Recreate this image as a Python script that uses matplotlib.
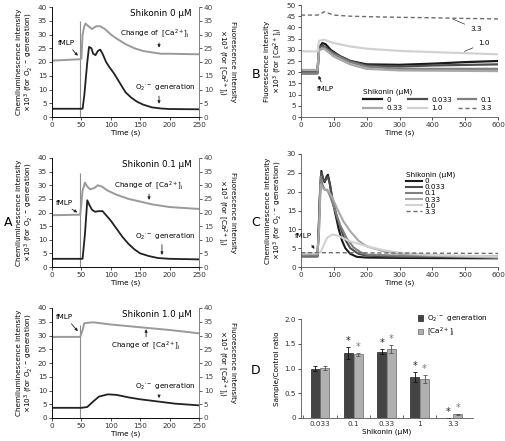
import matplotlib
matplotlib.use('Agg')
import matplotlib.pyplot as plt

plt.rcParams['font.family'] = 'DejaVu Sans'
plt.rcParams['mathtext.fontset'] = 'dejavusans'
plt.rcParams['font.size'] = 5.2
plt.rcParams['axes.linewidth'] = 0.6

# ---- Panel A data (time in s, values x10^3) ----
a0_ca_t = [0, 48, 50, 52, 55, 57, 62, 68, 75, 82, 90, 100, 110, 125, 140, 155, 170, 185, 200, 250]
a0_ca_v = [20.5, 21, 21.2, 30, 33, 34, 33, 32, 33, 33, 32, 30, 28.5, 26.5, 25, 24, 23.5, 23, 23, 22.8]
a0_o2_t = [0, 52, 55, 60, 63, 67, 70, 74, 78, 82, 86, 92, 98, 105, 115, 125, 135, 145, 155, 170, 185, 200, 250]
a0_o2_v = [3, 3, 8, 20, 25.5, 25, 23, 22.5, 24, 24.5, 23, 20, 18, 16, 12.5, 9, 7, 5.5, 4.5, 3.5, 3.1, 2.9, 2.8]

a1_ca_t = [0, 48, 52, 56, 60, 65, 72, 78, 85, 95, 110, 130, 150, 170, 200, 250]
a1_ca_v = [19, 19.2, 28, 31, 29.5, 28.5, 29, 30, 29.5, 28, 26.5, 25, 24, 23, 22, 21.3]
a1_o2_t = [0, 52, 56, 60, 63, 68, 73, 80, 86, 92, 100, 110, 120, 130, 140, 150, 165, 180, 200, 250]
a1_o2_v = [3, 3, 12, 24.5, 23, 21, 20.3, 20.5, 20.5, 19, 17, 14, 11, 8.5, 6.5, 5, 4, 3.3, 3, 2.8]

a2_ca_t = [0, 48, 52, 55, 70, 100, 150, 200, 250]
a2_ca_v = [29.5, 29.5, 32, 34.5, 34.8, 34, 33, 32, 30.8]
a2_o2_t = [0, 50, 60, 70, 80, 95, 110, 130, 150, 180, 210, 250]
a2_o2_v = [3.7, 3.7, 4, 6, 7.8, 8.6, 8.4, 7.5, 6.8, 6, 5.2, 4.6]

a_titles = ['Shikonin 0 \u03bcM', 'Shikonin 0.1 \u03bcM', 'Shikonin 1.0 \u03bcM']
fmlp_time = 48
fmlp_top = [35, 34.5, 34]

# ---- Panel B data: [Ca2+]i ----
conc_labels = ['0', '0.033', '0.1', '0.33', '1.0', '3.3']
b_t = {
    '0': [0, 50, 55, 65, 75, 90, 120, 150, 200, 300, 400, 500, 600],
    '0.033': [0, 50, 55, 65, 100, 150, 200, 300, 400, 600],
    '0.1': [0, 50, 55, 70, 100, 150, 200, 300, 600],
    '0.33': [0, 50, 55, 70, 100, 150, 200, 300, 600],
    '1.0': [0, 50, 55, 70, 100, 150, 200, 300, 400, 500, 600],
    '3.3': [0, 50, 60, 70, 80, 100, 150, 200, 300, 400, 500, 600],
}
b_v = {
    '0': [19.5, 19.5, 31, 33, 32.5, 30, 27, 25, 23.5, 23.3, 23.8, 24.5, 25],
    '0.033': [20, 20, 31, 32, 28.5, 25, 23, 22.5, 23, 23.5],
    '0.1': [19.5, 19.5, 30, 31, 28, 24.5, 22.5, 21.5, 21.5],
    '0.33': [21, 21, 30, 30.5, 27, 23.5, 21.5, 20.8, 20.5],
    '1.0': [29.3, 29.3, 34, 34.5, 33, 31.5, 30.5, 29.5, 29, 28.5, 28],
    '3.3': [45.5, 45.5, 46, 47, 46.5, 45.5, 45, 44.8, 44.5, 44.3, 44, 43.8],
}

# ---- Panel C data: O2- generation ----
c_t = {
    '0': [0, 50, 53, 58, 62, 67, 72, 78, 82, 88, 95, 105, 115, 125, 135, 150, 170, 200, 300, 600],
    '0.033': [0, 50, 53, 58, 62, 67, 72, 78, 82, 88, 95, 110, 130, 150, 175, 200, 300, 600],
    '0.1': [0, 50, 55, 60, 65, 72, 80, 88, 100, 120, 140, 160, 180, 200, 300, 600],
    '0.33': [0, 50, 55, 60, 65, 75, 85, 95, 110, 130, 150, 175, 200, 250, 300, 400, 600],
    '1.0': [0, 50, 60, 70, 80, 95, 110, 130, 150, 200, 250, 300, 400, 600],
    '3.3': [0, 100, 300, 600],
}
c_v = {
    '0': [2.8, 2.8, 8, 20, 25.5, 23.5, 22.5, 24, 24.5, 22, 18, 14, 10, 7, 5, 3.5, 2.7, 2.5, 2.4, 2.3],
    '0.033': [3, 3, 8, 20, 25, 23.5, 22.8, 23.5, 24, 22, 18.5, 13, 8, 5, 3.5, 3, 2.7, 2.6],
    '0.1': [3, 3, 10, 24, 22, 20.5, 20.5, 19, 16, 11, 7.5, 5.2, 4, 3.3, 3, 2.8],
    '0.33': [3.5, 3.5, 10, 22, 21, 20.5, 20, 18.5, 15.5, 12, 9.5, 7, 5.5, 4.2, 3.5, 3, 2.5],
    '1.0': [3.7, 3.7, 4, 6, 7.8, 8.6, 8.4, 7.6, 6.8, 5.5, 4.5, 3.8, 3.2, 2.8],
    '3.3': [3.8, 3.8, 3.7, 3.6],
}
series_colors = {'0': '#1a1a1a', '0.033': '#4d4d4d', '0.1': '#808080',
                 '0.33': '#a8a8a8', '1.0': '#d2d2d2', '3.3': '#6e6e6e'}

# ---- Panel D data ----
d_cats = ['0.033', '0.1', '0.33', '1', '3.3']
d_o2 = [1.0, 1.32, 1.34, 0.82, 0.0]
d_o2_err = [0.06, 0.12, 0.05, 0.10, 0.0]
d_ca = [1.01, 1.29, 1.40, 0.78, 0.08]
d_ca_err = [0.05, 0.03, 0.08, 0.08, 0.01]
d_sig = [False, True, True, True, True]

W, H = 505, 441
fig = plt.figure(figsize=(W / 100, H / 100), dpi=100)


def px_axes(x0, y0, x1, y1):
    return fig.add_axes([x0 / W, 1 - y1 / H, (x1 - x0) / W, (y1 - y0) / H])


o2_lbl = r'O$_2$$^{\cdot-}$'
ca_lbl = r'[Ca$^{2+}$]$_\mathrm{i}$'
spine_c = '#555555'
arrow_kw = dict(arrowstyle='-|>', color='#222', lw=0.6, mutation_scale=4)

# ---------------- Panel A ----------------
a_rows = [(7, 117), (158, 267), (308, 418)]
a_data = [(a0_ca_t, a0_ca_v, a0_o2_t, a0_o2_v),
          (a1_ca_t, a1_ca_v, a1_o2_t, a1_o2_v),
          (a2_ca_t, a2_ca_v, a2_o2_t, a2_o2_v)]
# annotation placements (data coords)
ca_txt = [(174, 30.2, 182, 28, 24.2), (165, 29.8, 165, 27.8, 23.6), (160, 26.5, 160, 28.5, 33.3)]
o2_txt = [(192, 10.5, 182, 8.6, 3.8), (192, 11.1, 187, 9.2, 3.4), (192, 11.3, 182, 9.2, 6.2)]
fmlp_txt = [(24, 27, 47, 21.5), (22, 23.5, 47, 19.5), (22, 36.8, 47, 30.8)]

for i, (y0, y1) in enumerate(a_rows):
    ax = px_axes(52, y0, 199, y1)
    ca_t, ca_v, o2_t, o2_v = a_data[i]
    ax.vlines(fmlp_time, 0, fmlp_top[i], color='#8c8c8c', lw=0.8)
    ax.plot(ca_t, ca_v, color='#9a9a9a', lw=1.4)
    ax.plot(o2_t, o2_v, color='#222222', lw=1.3)
    ax.set_xlim(0, 250)
    ax.set_ylim(0, 40)
    ax.set_xticks(range(0, 251, 50))
    ax.set_yticks(range(0, 41, 5))
    ax.spines['top'].set_visible(False)
    for s in ['left', 'bottom', 'right']:
        ax.spines[s].set_color(spine_c)
    ax.tick_params(length=2, width=0.6, pad=1.5, colors='#333333')
    ax.set_xlabel('Time (s)', labelpad=1)
    ax.set_ylabel('Chemiluminescence intensity\n\u00d710$^3$ (for ' + o2_lbl + ' generation)',
                  labelpad=2, linespacing=1.1)
    ax2 = ax.twinx()
    ax2.set_ylim(0, 40)
    ax2.set_yticks(range(0, 41, 5))
    ax2.spines['top'].set_visible(False)
    ax2.spines['right'].set_color('#888888')
    ax2.tick_params(length=2, width=0.6, pad=1.5, colors='#444444')
    ax2.set_ylabel('Fluorescence intensity\n\u00d710$^3$ (for ' + ca_lbl + ')',
                   rotation=270, va='bottom', labelpad=2, linespacing=1.1)
    ax.text(238, 37.5, a_titles[i], ha='right', va='center', fontsize=6.3)
    tx, ty, axx, ay0, ay1 = ca_txt[i]
    ax.text(tx, ty, 'Change of  ' + ca_lbl, ha='center', va='center')
    ax.annotate('', xy=(axx, ay1), xytext=(axx, ay0), arrowprops=arrow_kw)
    tx, ty, axx, ay0, ay1 = o2_txt[i]
    ax.text(tx, ty, o2_lbl + ' generation', ha='center', va='center')
    ax.annotate('', xy=(axx, ay1), xytext=(axx, ay0), arrowprops=arrow_kw)
    fx, fy, fax, fay = fmlp_txt[i]
    ax.annotate('', xy=(fax, fay), xytext=(fx + 8, fy - 1.8), arrowprops=arrow_kw)
    ax.text(fx, fy, 'fMLP', ha='center', va='center')

fig.text(8 / W, 1 - 222 / H, 'A', fontsize=9, ha='center', va='center')

# ---------------- Panel B ----------------
axb = px_axes(301, 5, 498, 117)
handles_b = {}
for lab in conc_labels:
    ls = (0, (3, 2)) if lab == '3.3' else '-'
    lw = 1.0 if lab == '3.3' else 1.6
    ln, = axb.plot(b_t[lab], b_v[lab], color=series_colors[lab], lw=lw, ls=ls, label=lab)
    handles_b[lab] = ln
axb.set_xlim(0, 600)
axb.set_ylim(0, 50)
axb.set_xticks(range(0, 601, 100))
axb.set_yticks(range(0, 51, 5))
for s in ['top', 'right']:
    axb.spines[s].set_visible(False)
for s in ['left', 'bottom']:
    axb.spines[s].set_color(spine_c)
axb.tick_params(length=2, width=0.6, pad=1.5, colors='#333333')
axb.set_xlabel('Time (s)', labelpad=1)
axb.set_ylabel('Fluorescence intensity\n\u00d710$^3$ (for ' + ca_lbl + ')', labelpad=2, linespacing=1.1)
axb.annotate('3.3', xy=(455, 44.2), xytext=(515, 39.3), ha='left', va='center',
             arrowprops=dict(arrowstyle='-', color='#333', lw=0.5))
axb.annotate('1.0', xy=(490, 28.8), xytext=(540, 33), ha='left', va='center',
             arrowprops=dict(arrowstyle='-', color='#333', lw=0.5))
axb.annotate('', xy=(50, 19.5), xytext=(65, 14.5), arrowprops=arrow_kw)
axb.text(73, 12.5, 'fMLP', ha='center', va='center')
order_b = ['0', '0.33', '0.033', '1.0', '0.1', '3.3']
axb.legend([handles_b[k] for k in order_b], order_b, ncol=3, title='Shikonin (\u03bcM)',
           loc='lower right', bbox_to_anchor=(1.0, 0.0), frameon=False,
           handlelength=2.6, columnspacing=0.8, handletextpad=0.6, labelspacing=0.3,
           fontsize=5.2, title_fontsize=5.2, alignment='left', borderaxespad=0.4)
fig.text(256 / W, 1 - 74 / H, 'B', fontsize=9, ha='center', va='center')

# ---------------- Panel C ----------------
axc = px_axes(301, 154, 498, 267)
handles_c = []
for lab in conc_labels:
    ls = (0, (3, 2)) if lab == '3.3' else '-'
    lw = 1.0 if lab == '3.3' else 1.5
    ln, = axc.plot(c_t[lab], c_v[lab], color=series_colors[lab], lw=lw, ls=ls, label=lab)
    handles_c.append(ln)
axc.set_xlim(0, 600)
axc.set_ylim(0, 30)
axc.set_xticks(range(0, 601, 100))
axc.set_yticks(range(0, 31, 5))
for s in ['top', 'right']:
    axc.spines[s].set_visible(False)
for s in ['left', 'bottom']:
    axc.spines[s].set_color(spine_c)
axc.tick_params(length=2, width=0.6, pad=1.5, colors='#333333')
axc.set_xlabel('Time (s)', labelpad=1)
axc.set_ylabel('Chemiluminescence intensity\n\u00d710$^3$ (for ' + o2_lbl + ' generation)',
               labelpad=2, linespacing=1.1)
axc.annotate('', xy=(46, 4.2), xytext=(28, 6.4), arrowprops=arrow_kw)
axc.text(8, 8.2, 'fMLP', ha='center', va='center')
axc.legend(handles_c, conc_labels, title='Shikonin (\u03bcM)', loc='upper left',
           bbox_to_anchor=(0.5, 0.9), frameon=False, handlelength=2.2, handletextpad=0.3,
           labelspacing=0.0, fontsize=5.2, title_fontsize=5.2, alignment='left')
fig.text(256 / W, 1 - 222 / H, 'C', fontsize=9, ha='center', va='center')

# ---------------- Panel D ----------------
axd = px_axes(301, 319, 473, 418)
xs = list(range(len(d_cats)))
bw = 0.27
axd.bar([x - bw / 2 - 0.01 for x in xs], d_o2, bw, yerr=d_o2_err, color='#444444',
        edgecolor='#222222', lw=0.5, error_kw=dict(lw=0.6, capsize=1.5, capthick=0.6, ecolor='#111'),
        label=o2_lbl + ' generation')
axd.bar([x + bw / 2 + 0.01 for x in xs], d_ca, bw, yerr=d_ca_err, color='#b0b0b0',
        edgecolor='#666666', lw=0.5, error_kw=dict(lw=0.6, capsize=1.5, capthick=0.6, ecolor='#555'),
        label=ca_lbl)
for x, v, e, v2, e2, sig in zip(xs, d_o2, d_o2_err, d_ca, d_ca_err, d_sig):
    if sig:
        axd.text(x - bw / 2 - 0.01, v + e + 0.02, '*', ha='center', va='bottom', fontsize=7, color='#222')
        axd.text(x + bw / 2 + 0.01, v2 + e2 + 0.02, '*', ha='center', va='bottom', fontsize=7, color='#777')
axd.set_xlim(-0.57, 4.6)
axd.set_ylim(0, 2.0)
axd.set_xticks(xs)
axd.set_xticklabels(d_cats)
axd.set_xticks([x + 0.5 for x in xs[:-1]] + [-0.5], minor=True)
axd.set_yticks([0, 0.5, 1.0, 1.5, 2.0])
axd.set_yticklabels(['0', '0.5', '1.0', '1.5', '2.0'])
for s in ['top', 'right']:
    axd.spines[s].set_visible(False)
for s in ['left', 'bottom']:
    axd.spines[s].set_color(spine_c)
axd.tick_params(axis='x', which='major', length=0, pad=2, colors='#333333')
axd.tick_params(axis='x', which='minor', length=2, width=0.6, direction='in', color=spine_c)
axd.tick_params(axis='y', length=2, width=0.6, pad=1.5, colors='#333333')
axd.set_xlabel('Shikonin (\u03bcM)', labelpad=1)
axd.set_ylabel('Sample/Control ratio', labelpad=3)
axd.legend(loc='upper left', bbox_to_anchor=(0.64, 1.12), frameon=False, handlelength=0.8,
           handleheight=0.8, handletextpad=0.5, labelspacing=0.2, fontsize=5.2)
fig.text(256 / W, 1 - 371 / H, 'D', fontsize=9, ha='center', va='center')

fig.savefig('out.png', dpi=100)
